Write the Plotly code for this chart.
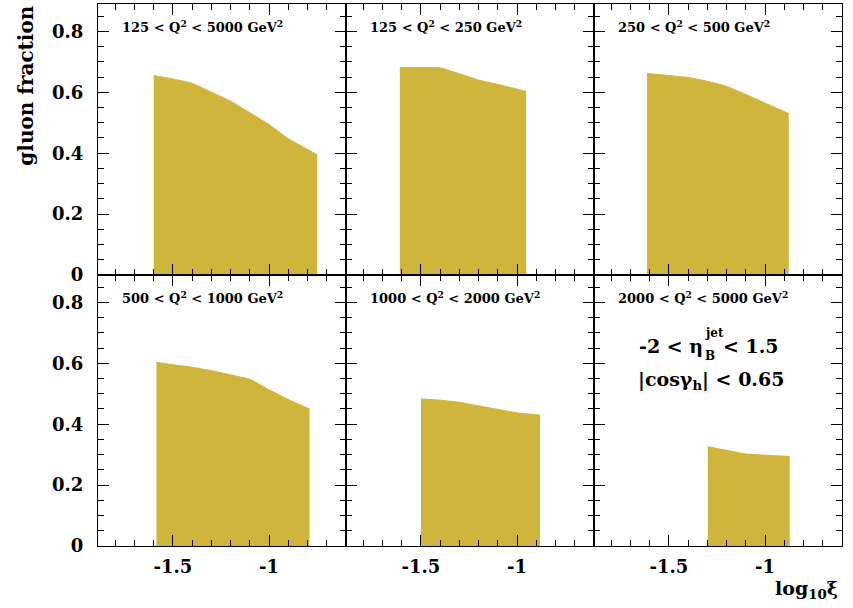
import plotly.graph_objects as go
from plotly.subplots import make_subplots

# ---- data ----
panel_labels = [
    "125 < Q<sup>2</sup> < 5000 GeV<sup>2</sup>",
    "125 < Q<sup>2</sup> < 250 GeV<sup>2</sup>",
    "250 < Q<sup>2</sup> < 500 GeV<sup>2</sup>",
    "500 < Q<sup>2</sup> < 1000 GeV<sup>2</sup>",
    "1000 < Q<sup>2</sup> < 2000 GeV<sup>2</sup>",
    "2000 < Q<sup>2</sup> < 5000 GeV<sup>2</sup>",
]
x1 = [-1.60, -1.5, -1.4, -1.3, -1.2, -1.1, -1.0, -0.9, -0.8, -0.75]
y1 = [0.655, 0.644, 0.630, 0.600, 0.571, 0.533, 0.494, 0.447, 0.413, 0.395]
x2 = [-1.61, -1.4, -1.3, -1.2, -1.1, -1.0, -0.953]
y2 = [0.681, 0.681, 0.661, 0.640, 0.626, 0.611, 0.603]
x3 = [-1.614, -1.5, -1.4, -1.3, -1.2, -1.1, -1.0, -0.877]
y3 = [0.662, 0.655, 0.649, 0.636, 0.620, 0.593, 0.564, 0.530]
x4 = [-1.586, -1.5, -1.4, -1.3, -1.2, -1.1, -1.0, -0.9, -0.79]
y4 = [0.603, 0.596, 0.587, 0.576, 0.562, 0.548, 0.513, 0.481, 0.450]
x5 = [-1.5, -1.4, -1.3, -1.2, -1.1, -1.0, -0.881]
y5 = [0.483, 0.479, 0.472, 0.460, 0.447, 0.437, 0.430]
x6 = [-1.298, -1.2, -1.1, -1.0, -0.872]
y6 = [0.326, 0.314, 0.302, 0.298, 0.294]

xs = [x1, x2, x3, x4, x5, x6]
ys = [y1, y2, y3, y4, y5, y6]

x_tickvals = [-1.5, -1.0]
x_ticktext = ["-1.5", "-1"]
y_tickvals = [0, 0.2, 0.4, 0.6, 0.8]
y_ticktext = ["0", "0.2", "0.4", "0.6", "0.8"]

FILL = "#d0b53c"
FONT = "DejaVu Serif"

fig = make_subplots(rows=2, cols=3, shared_xaxes=True, shared_yaxes=True,
                    horizontal_spacing=0, vertical_spacing=0)

for i in range(6):
    r, c = i // 3 + 1, i % 3 + 1
    fig.add_trace(go.Scatter(x=xs[i], y=ys[i], mode="lines", fill="tozeroy",
                             fillcolor=FILL, line=dict(color=FILL, width=1),
                             showlegend=False, hoverinfo="skip"), row=r, col=c)
    fig.add_annotation(x=-1.775, y=0.815, xref=f"x{i+1 if i else ''}",
                       yref=f"y{i+1 if i else ''}", text=panel_labels[i],
                       showarrow=False, xanchor="left", yanchor="middle",
                       font=dict(family=FONT, size=13, color="black", weight="bold"))

axis_common = dict(showline=True, linecolor="black", linewidth=1.3, mirror="ticks",
                   ticks="inside", tickcolor="black", tickwidth=1.3, showgrid=False,
                   zeroline=False,
                   tickfont=dict(family=FONT, size=18, color="black", weight="bold"))

fig.update_xaxes(range=[-1.89, -0.60], tickmode="array", tickvals=x_tickvals,
                 ticktext=x_ticktext, ticklen=11, ticklabelstandoff=4,
                 minor=dict(tickmode="linear", tick0=0, dtick=0.1, ticklen=6,
                            ticks="inside", tickcolor="black", tickwidth=1.3),
                 **axis_common)
fig.update_yaxes(range=[0, 0.89], tickmode="array", tickvals=y_tickvals,
                 ticktext=y_ticktext, ticklen=11, ticklabelstandoff=10,
                 minor=dict(tickmode="linear", tick0=0, dtick=0.05, ticklen=6,
                            ticks="inside", tickcolor="black", tickwidth=1.3),
                 **axis_common)

# cut annotation in the last panel (eta with stacked super/subscript)
big = dict(family=FONT, size=19, color="black", weight="bold")
small = dict(family=FONT, size=12, color="black", weight="bold")
fig.add_annotation(x=-1.317, y=0.658, xref="x6", yref="y6", text="-2 < η",
                   showarrow=False, xanchor="right", yanchor="middle", font=big,
                   borderpad=0)
fig.add_annotation(x=-1.317, y=0.701, xref="x6", yref="y6", text="jet",
                   showarrow=False, xanchor="left", yanchor="middle", font=small,
                   borderpad=0)
fig.add_annotation(x=-1.317, y=0.624, xref="x6", yref="y6", text="B",
                   showarrow=False, xanchor="left", yanchor="middle", font=small,
                   borderpad=0)
fig.add_annotation(x=-1.226, y=0.658, xref="x6", yref="y6", text="< 1.5",
                   showarrow=False, xanchor="left", yanchor="middle", font=big,
                   borderpad=0)
fig.add_annotation(x=-1.28, y=0.545, xref="x6", yref="y6",
                   text="|cosγ<sub>h</sub>| < 0.65", showarrow=False, font=big)

# axis titles
fig.add_annotation(x=-0.097, y=0.849, xref="paper", yref="paper",
                   text="gluon fraction", textangle=-90, showarrow=False,
                   xanchor="center", yanchor="middle",
                   font=dict(family=FONT, size=20, color="black", weight="bold"))
fig.add_annotation(x=0.997, y=-0.081, xref="paper", yref="paper",
                   text="log<sub>10</sub>ξ", showarrow=False, xanchor="right",
                   yanchor="middle",
                   font=dict(family=FONT, size=19, color="black", weight="bold"))

fig.update_layout(width=853, height=608, margin=dict(l=98, r=11, t=4, b=62),
                  plot_bgcolor="white", paper_bgcolor="white")

fig.write_html("out.html", config={"displayModeBar": False},
               post_script="document.body.style.margin='0';document.body.style.overflow='hidden';")
